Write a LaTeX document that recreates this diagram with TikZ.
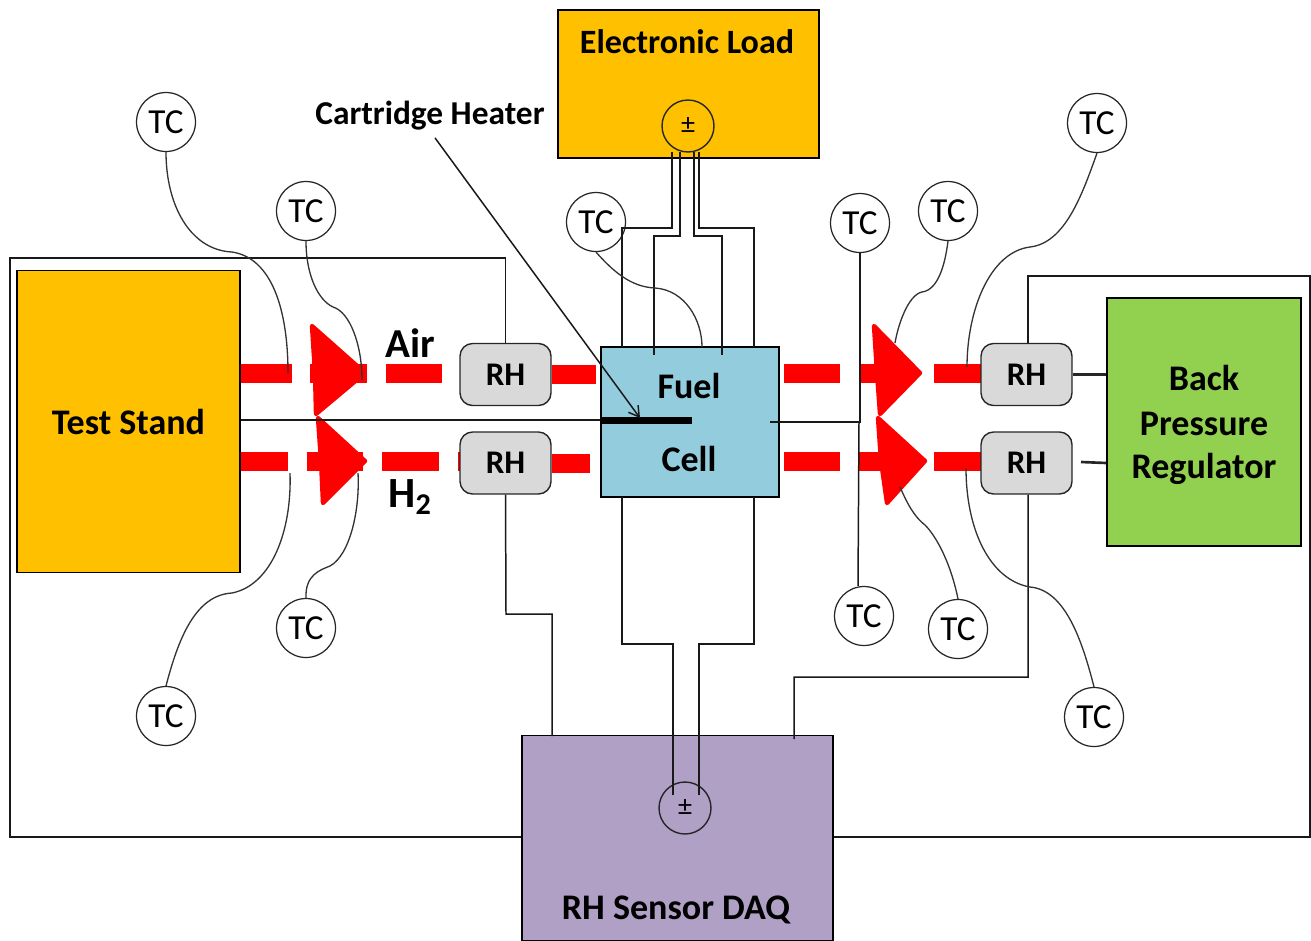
\documentclass[tikz,border=0pt]{standalone}
\usepackage{fontspec}
\setmainfont{Carlito}
\usetikzlibrary{arrows.meta}
\definecolor{amber}{HTML}{FFC000}
\definecolor{cellblue}{HTML}{93CDDD}
\definecolor{bprgreen}{HTML}{92D050}
\definecolor{daqpurple}{HTML}{B0A0C6}
\definecolor{rhgray}{HTML}{D9D9D9}
\tikzset{
  block/.style={draw=black,line width=0.8pt,inner sep=0pt,font=\fontsize{20.5}{24}\selectfont\bfseries},
  rhbox/.style={draw=black!85,line width=0.8pt,fill=rhgray,rounded corners=0.25cm,minimum width=1.82cm,minimum height=1.24cm,inner sep=0pt,font=\fontsize{18.8}{22}\selectfont\bfseries},
  tcnode/.style={circle,draw=black!85,line width=0.7pt,fill=white,minimum size=1.18cm,inner sep=0pt,font=\fontsize{20}{24}\selectfont},
  pmnode/.style={circle,draw=black!85,line width=0.8pt,minimum size=1.04cm,inner sep=0pt,font=\fontsize{16}{18}\selectfont},
  wire/.style={draw=black!90,line width=0.85pt},
  probe/.style={draw=black!80,line width=0.75pt},
  flow/.style={draw=red,line width=0.38cm},
  flowhead/.style={fill=red,draw=red,line width=2.5pt,line join=round},
  label/.style={font=\fontsize{20.5}{24}\selectfont\bfseries,inner sep=0pt},
}
\begin{document}
\begin{tikzpicture}[x=0.02cm,y=-0.02cm]
\useasboundingbox (0,0) rectangle (1311,940);
% Red gas streams
\foreach \a/\b in {240/292,310/367,386/442}
  \draw[flow] (\a,373)--(\b,373);
\foreach \a/\b in {240/288,307/363,382/439,458/470}
  \draw[flow] (\a,461)--(\b,461);
\foreach \a/\b in {784/840,859/910,934/985}
  \draw[flow] (\a,373)--(\b,373);
\foreach \a/\b in {784/840,858/915,934/985}
  \draw[flow] (\a,461)--(\b,461);
% Arrow heads
\foreach \xa/\ya/\xb/\yb/\xc/\yc in {312/326/365/373/316/414,318/418/365/461/323/503,874/326/920/373/880/414,878/418/925/461/887/503}
  \fill[flowhead] (\xa,\ya)--(\xb,\yb)--(\xc,\yc)--(\xa+3,\yb)--cycle;
% Blocks
\node[block,fill=amber,minimum width=4.46cm,minimum height=6.04cm] (stand) at (128.5,421.5) {Test Stand};
\node[block,fill=amber,minimum width=5.22cm,minimum height=2.96cm] (load) at (688.5,84) {};
\node[block,fill=cellblue,minimum width=3.56cm,minimum height=3cm] (cell) at (690,422) {};
\node[block,fill=bprgreen,minimum width=3.88cm,minimum height=4.96cm,align=center] (bpr) at (1204,422) {};
\node[block,fill=daqpurple,minimum width=6.22cm,minimum height=4.1cm] (daq) at (677.5,838) {};
\node[rhbox] (rhAir) at (505.5,374.5) {RH};
\node[rhbox] (rhFuel) at (505.5,463) {RH};
\node[rhbox] (rhAirOut) at (1026.5,374.5) {RH};
\node[rhbox] (rhFuelOut) at (1026.5,463) {RH};
\draw[flow] (rhAir.east)--++(44,0);
\draw[flow] (rhFuel.east)--++(38,0);
% Labels
\node[label,font=\fontsize{19.4}{22}\selectfont\bfseries] (loadtext) at (687,42) {Electronic Load};
\node[label,font=\fontsize{19}{22}\selectfont\bfseries] (heatertext) at (430,116) {Cartridge Heater};
\node[label,font=\fontsize{23.4}{26}\selectfont\bfseries] (airtext) at (410,343) {Air};
\node[label,font=\fontsize{24.5}{28}\selectfont\bfseries] (hydrotext) at (410,497) {H\textsubscript{2}};
\node[label] (fueltext) at (689,386) {Fuel};
\node[label] (celltext) at (689,459) {Cell};
\node[label] (backtext) at (1204,378) {Back};
\node[label] (presstext) at (1204,424) {Pressure};
\node[label] (regtext) at (1204,469) {Regulator};
\node[label] (daqtext) at (676,910) {RH Sensor DAQ};
% Meters
\node[pmnode] (loadpm) at (688,126) {±};
\node[pmnode] (daqpm) at (685,808) {±};
% Thermocouples
\foreach \name/\x/\y in {tcA/166/122,tcB/306/211,tcC/306/628,tcD/166/716,tcE/596/222,tcF/860/223,tcG/948/211,tcH/1097/123,tcI/864/616,tcJ/958/629,tcK/1094/717}
  \node[tcnode] (\name) at (\x,\y) {TC};
\coordinate (outerTL) at (10,258);
\coordinate (outerBL) at (10,837);
\coordinate (outerTR) at (1310,276);
\coordinate (outerBR) at (1310,837);
% Outer wiring to the DAQ
\draw[wire] (rhAir.north)|-(outerTL)--(outerBL)--(outerBL-|daq.west);
\draw[wire] ([xshift=0.03cm]rhAirOut.north)|-(outerTR)--(outerBR)--(outerBR-|daq.east);
\draw[wire] (rhFuel.south)--(506,614)-|(552,736);
\draw[wire] ([xshift=0.03cm]rhFuelOut.south)--(1028,677)-|(794,739);
\draw[wire] (622,497)--(622,644)-|(673,795);
\draw[wire] (754,497)--(754,644)-|(699,795);
% Wiring to the load
\draw[wire] (672,152)--(672,228)-|(622,347);
\draw[wire] (680,152)--(680,236)-|(654,355);
\draw[wire] (694,152)--(694,236)-|(722,355);
\draw[wire] (699,152)--(699,228)-|(754,347);
% Heater and cell thermocouple
\draw[wire] (stand.east|-0,420)--(600,420);
\draw[draw=black,line width=0.14cm] (601,420)--(692,420);
\draw[wire,-{Straight Barb[length=0.2cm,width=0.24cm]}] (heatertext.south)++(5,7)--(640,418);
\draw[wire] (770,422)-|(tcF.south);
\draw[wire] (859,422)--(tcI.north-|858,0);
% Probes
\draw[probe] (tcA.south) .. controls (166,205) and (190,250) .. (232,252) .. controls (272,258) and (288,310) .. (288,373);
\draw[probe] (tcB.south) .. controls (306,275) and (318,300) .. (333,307) .. controls (350,312) and (362,345) .. (362,380);
\draw[probe] (tcC.north) .. controls (305,575) and (320,570) .. (330,566) .. controls (350,555) and (360,510) .. (358,473);
\draw[probe] (tcD.north) .. controls (178,640) and (195,595) .. (232,593) .. controls (272,585) and (292,530) .. (290,473);
\draw[probe] (tcE.south) .. controls (612,270) and (630,287) .. (655,288) .. controls (685,290) and (702,320) .. (702,347);
\draw[probe] (tcG.south) .. controls (945,265) and (938,290) .. (922,292) .. controls (908,295) and (898,325) .. (895,343);
\draw[probe] (tcH.south) .. controls (1082,195) and (1065,243) .. (1030,247) .. controls (990,252) and (967,310) .. (967,367);
\draw[probe] (tcJ.north) .. controls (950,560) and (935,535) .. (925,525) .. controls (912,515) and (905,498) .. (900,487);
\draw[probe] (tcK.north) .. controls (1082,640) and (1065,590) .. (1030,587) .. controls (990,580) and (966,530) .. (966,468);
% Regulator leads
\draw[draw=black!85,line width=1.5pt] (rhAirOut.east)--(rhAirOut.east-|bpr.west);
\draw[draw=black!85,line width=1.5pt] (1081,462)--(bpr.west|-0,463);
\end{tikzpicture}
\end{document}
